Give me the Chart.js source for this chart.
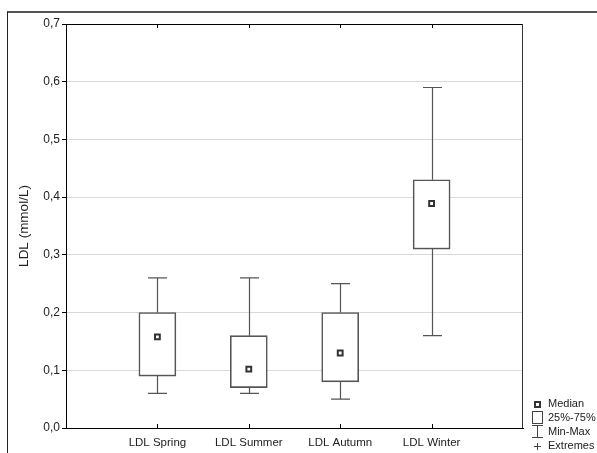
<!DOCTYPE html>
<html>
<head>
<meta charset="utf-8">
<script src="https://cdn.jsdelivr.net/npm/chart.js@4/dist/chart.umd.min.js"></script>
<style>
  html, body { margin: 0; padding: 0; background: #fff; }
  #wrap { position: relative; width: 597px; height: 453px; overflow: hidden; }
  #frame { position: absolute; left: 7px; top: 11px; width: 620px; height: 480px;
           border-top: 2px solid #555; border-left: 1px solid #222; box-sizing: border-box; }
  #c { position: absolute; left: 0; top: 0; }
</style>
</head>
<body>
<div id="wrap">
  <div id="frame"></div>
  <canvas id="c" width="597" height="453"></canvas>
</div>
<script>
// Seasonal LDL distribution: box = quartiles, whiskers = min/max, marker = median
const categories   = ['LDL Spring', 'LDL Summer', 'LDL Autumn', 'LDL Winter'];
const minValues    = [0.06, 0.06, 0.05, 0.16];
const q1Values     = [0.09, 0.07, 0.08, 0.31];
const medianValues = [0.158, 0.102, 0.13, 0.389];
const q3Values     = [0.20, 0.16, 0.20, 0.43];
const maxValues    = [0.26, 0.26, 0.25, 0.59];
const yTickValues  = [0, 0.1, 0.2, 0.3, 0.4, 0.5, 0.6, 0.7];
const legendLabels = ['Median', '25%-75%', 'Min-Max', 'Extremes'];

Chart.defaults.font.family = '"Liberation Sans", Arial, sans-serif';
Chart.defaults.font.size = 11;
Chart.defaults.color = '#222';

const fmt = v => v.toFixed(1).replace('.', ',');

// whiskers, inner tick marks, plot frame and the legend
const boxExtras = {
  id: 'boxExtras',
  afterDatasetsDraw(chart) {
    const { ctx, scales: { x, y } } = chart;
    ctx.save();
    ctx.strokeStyle = '#555';
    ctx.lineWidth = 1.2;
    const cap = 9.5;
    categories.forEach((_, i) => {
      const px = Math.round(x.getPixelForValue(i + 1)) + 0.5;
      const yMin = y.getPixelForValue(minValues[i]);
      const yMax = y.getPixelForValue(maxValues[i]);
      const yQ1 = y.getPixelForValue(q1Values[i]);
      const yQ3 = y.getPixelForValue(q3Values[i]);
      ctx.beginPath();
      ctx.moveTo(px, yMax); ctx.lineTo(px, yQ3);
      ctx.moveTo(px, yQ1); ctx.lineTo(px, yMin);
      ctx.moveTo(px - cap, yMax); ctx.lineTo(px + cap, yMax);
      ctx.moveTo(px - cap, yMin); ctx.lineTo(px + cap, yMin);
      ctx.stroke();
    });
    ctx.restore();
  },
  afterDraw(chart) {
    const { ctx, chartArea: a, scales: { x } } = chart;
    ctx.save();
    // top and right edges of the plot box
    ctx.strokeStyle = '#000';
    ctx.lineWidth = 1;
    ctx.beginPath();
    ctx.moveTo(a.left, a.top + 0.5); ctx.lineTo(a.right, a.top + 0.5);
    ctx.stroke();
    ctx.strokeStyle = '#333';
    ctx.beginPath();
    ctx.moveTo(a.right - 0.5, a.top); ctx.lineTo(a.right - 0.5, a.bottom);
    ctx.stroke();
    // inward category ticks on bottom and top axes
    ctx.strokeStyle = '#000';
    ctx.beginPath();
    categories.forEach((_, i) => {
      const px = Math.round(x.getPixelForValue(i + 1)) + 0.5;
      ctx.moveTo(px, a.bottom); ctx.lineTo(px, a.bottom - 4);
      ctx.moveTo(px, a.top); ctx.lineTo(px, a.top + 4);
    });
    ctx.stroke();

    // legend
    const lx = 537, tx = 548, rows = [404, 418, 432, 446];
    ctx.font = '11px "Liberation Sans", Arial, sans-serif';
    ctx.fillStyle = '#222';
    ctx.textBaseline = 'middle';
    ctx.textAlign = 'left';
    legendLabels.forEach((t, i) => ctx.fillText(t, tx, rows[i]));
    // median symbol
    ctx.fillStyle = '#333';
    ctx.fillRect(lx - 3, rows[0] - 3, 7, 7);
    ctx.fillStyle = '#fff';
    ctx.fillRect(lx - 1, rows[0] - 1, 3, 3);
    // quartile box symbol
    ctx.strokeStyle = '#444';
    ctx.lineWidth = 1;
    ctx.strokeRect(532.5, rows[1] - 6.5, 10, 12);
    // min-max symbol
    ctx.beginPath();
    ctx.moveTo(532, rows[2] - 6.5); ctx.lineTo(543, rows[2] - 6.5);
    ctx.moveTo(537.5, rows[2] - 6.5); ctx.lineTo(537.5, rows[2] + 5.5);
    ctx.moveTo(532, rows[2] + 5.5); ctx.lineTo(543, rows[2] + 5.5);
    ctx.stroke();
    // extremes symbol
    ctx.beginPath();
    ctx.moveTo(534, rows[3] + 0.5); ctx.lineTo(541, rows[3] + 0.5);
    ctx.moveTo(537.5, rows[3] - 3); ctx.lineTo(537.5, rows[3] + 4);
    ctx.stroke();
    ctx.restore();
  }
};

new Chart(document.getElementById('c'), {
  type: 'bar',
  data: {
    datasets: [
      {
        type: 'bar',
        data: categories.map((_, i) => ({ x: i + 1, y: [q1Values[i], q3Values[i]] })),
        backgroundColor: '#fff',
        borderColor: '#555',
        borderWidth: 1.6,
        borderSkipped: false,
        barThickness: 37,
        order: 2
      },
      {
        type: 'scatter',
        data: categories.map((_, i) => ({ x: i + 1, y: medianValues[i] })),
        pointStyle: 'rect',
        pointRadius: 3.4,
        pointBorderWidth: 2,
        borderColor: '#333',
        backgroundColor: '#fff',
        order: 1
      }
    ]
  },
  options: {
    responsive: false,
    animation: false,
    events: [],
    layout: { padding: { left: 0, top: 24, right: 74, bottom: 0 } },
    plugins: { legend: { display: false }, tooltip: { enabled: false } },
    scales: {
      x: {
        type: 'linear',
        min: 0,
        max: 5,
        offset: false,
        afterFit: s => { s.height = 25; },
        afterBuildTicks: s => { s.ticks = categories.map((_, i) => ({ value: i + 1 })); },
        ticks: {
          autoSkip: false,
          maxRotation: 0,
          padding: 8,
          color: '#222',
          font: { size: 11.5 },
          callback: v => categories[v - 1] || ''
        },
        grid: { display: true, offset: false, drawOnChartArea: false, drawTicks: false },
        border: { display: true, color: '#000', width: 1 }
      },
      y: {
        min: 0,
        max: 0.7,
        afterFit: s => { s.width = 66; },
        afterBuildTicks: s => { s.ticks = yTickValues.map(v => ({ value: v })); },
        ticks: { padding: 2, color: '#222', font: { size: 12 }, callback: v => fmt(v) },
        grid: {
          color: c => (c.tick && c.tick.value > 0.001 && c.tick.value < 0.699) ? '#d9d9d9' : 'rgba(0,0,0,0)',
          tickColor: '#000',
          tickLength: 4,
          lineWidth: 1
        },
        border: { display: true, color: '#000', width: 1 },
        title: {
          display: true,
          text: 'LDL (mmol/L)',
          color: '#222',
          font: { size: 13.5 },
          padding: { top: 16, bottom: 0 }
        }
      }
    }
  },
  plugins: [boxExtras]
});
</script>
</body>
</html>
